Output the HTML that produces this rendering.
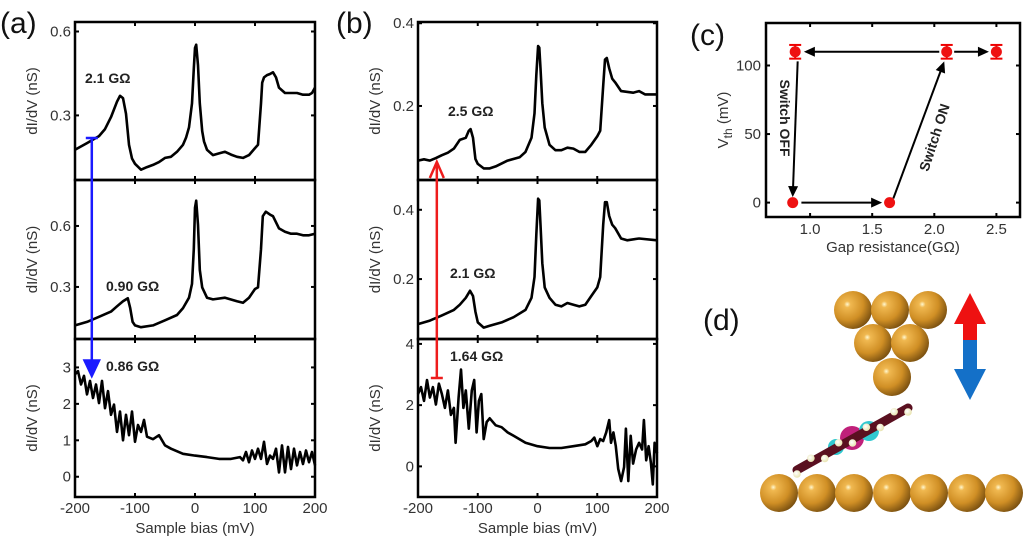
<!DOCTYPE html>
<html><head><meta charset="utf-8"><style>
html,body{margin:0;padding:0;background:#fff;}
svg{display:block;font-family:"Liberation Sans",sans-serif;}
.tk{font-size:15px;fill:#333;}
.lab{font-size:15px;fill:#333;}
.ann{font-size:14px;font-weight:bold;fill:#222;}
.pl{font-size:30px;fill:#111;}
</style></head><body>
<svg id="fig" width="1024" height="543" viewBox="0 0 1024 543">
<g id="root"></g>
</svg>
<script>
// ---------- data ----------
const aTopX=[-200,-180,-160,-150,-140,-130,-125,-120,-115,-110,-105,-100,-90,-80,-70,-60,-50,-40,-30,-20,-15,-10,-5,-2,0,2,5,8,12,15,20,30,40,50,60,70,80,90,100,105,110,112,115,120,125,130,135,140,150,160,170,180,190,195,200];
const aTopY=[0.177,0.201,0.226,0.251,0.294,0.349,0.370,0.362,0.306,0.195,0.146,0.127,0.106,0.115,0.123,0.133,0.148,0.152,0.170,0.195,0.220,0.257,0.343,0.467,0.541,0.553,0.479,0.343,0.244,0.207,0.177,0.158,0.164,0.170,0.160,0.152,0.148,0.158,0.183,0.195,0.343,0.417,0.436,0.444,0.448,0.454,0.436,0.399,0.380,0.380,0.380,0.374,0.374,0.380,0.399];
const aMidX=[-200,-180,-160,-140,-130,-120,-112,-108,-104,-100,-90,-70,-50,-30,-20,-10,-5,-2,0,2,5,8,12,20,30,50,70,80,90,100,105,110,113,118,125,130,140,150,160,170,180,190,200];
const aMidY=[0.111,0.128,0.153,0.179,0.205,0.230,0.244,0.196,0.128,0.111,0.102,0.111,0.136,0.162,0.196,0.247,0.315,0.486,0.690,0.724,0.605,0.384,0.298,0.247,0.239,0.247,0.230,0.222,0.247,0.290,0.298,0.486,0.648,0.670,0.656,0.648,0.588,0.571,0.562,0.562,0.554,0.554,0.562];
const aBotX=[-200,-195,-190,-185,-180,-175,-170,-165,-160,-155,-150,-145,-140,-135,-130,-125,-120,-115,-110,-105,-100,-95,-90,-85,-80,-70,-60,-50,-40,-20,0,20,40,60,75,80,85,90,95,100,105,110,115,120,125,130,135,140,145,150,155,160,165,170,175,180,185,190,195,200];
const aBotY=[2.81,2.9,2.53,2.77,2.26,2.63,2.16,2.53,2.02,2.63,1.88,2.35,1.70,1.98,1.23,1.79,1.0,1.70,1.14,1.79,0.96,1.42,1.23,1.56,1.10,1.03,1.14,0.86,0.77,0.63,0.58,0.54,0.49,0.49,0.54,0.45,0.68,0.40,0.72,0.49,0.77,0.49,0.96,0.35,0.58,0.49,0.77,0.12,0.86,0.12,0.82,0.21,0.77,0.31,0.68,0.35,0.72,0.40,0.68,0.31];
const bTopX=[-200,-190,-180,-170,-160,-150,-140,-130,-120,-115,-112,-108,-104,-100,-90,-80,-70,-50,-30,-20,-10,-5,-2,1,3,5,8,12,20,30,40,50,60,70,80,90,100,105,110,113,116,120,125,130,140,160,170,180,200];
const bTopY=[0.068,0.071,0.068,0.074,0.081,0.087,0.097,0.118,0.123,0.140,0.144,0.123,0.072,0.060,0.049,0.049,0.054,0.068,0.076,0.089,0.123,0.182,0.274,0.345,0.341,0.291,0.207,0.148,0.106,0.093,0.093,0.099,0.097,0.089,0.089,0.106,0.127,0.140,0.249,0.312,0.316,0.291,0.266,0.257,0.236,0.232,0.236,0.228,0.228];
const bMidX=[-200,-180,-160,-140,-130,-120,-113,-108,-104,-100,-90,-80,-60,-40,-20,-10,-5,-2,1,3,5,8,12,20,30,40,50,60,70,80,90,100,105,110,113,116,120,125,130,140,150,170,200];
const bMidY=[0.070,0.080,0.095,0.111,0.126,0.146,0.166,0.151,0.106,0.075,0.060,0.065,0.075,0.090,0.111,0.146,0.206,0.327,0.432,0.427,0.357,0.246,0.176,0.146,0.126,0.121,0.131,0.126,0.121,0.126,0.151,0.176,0.206,0.357,0.422,0.422,0.382,0.357,0.347,0.317,0.312,0.317,0.312];
const bBotX=[-200,-195,-190,-185,-180,-175,-170,-165,-160,-155,-150,-145,-140,-137,-132,-128,-124,-120,-115,-110,-106,-102,-98,-94,-90,-85,-80,-70,-60,-50,-40,-20,0,20,40,60,80,90,95,100,105,110,115,120,123,127,131,135,140,145,148,152,156,160,165,170,175,178,182,186,190,193,196,200];
const bBotY=[2.36,2.59,2.14,2.82,2.25,2.59,2.02,2.70,2.36,1.91,2.48,1.68,1.91,0.77,2.25,3.16,1.91,2.48,1.23,2.48,2.82,1.11,2.14,2.36,0.89,1.45,1.57,1.34,1.28,1.11,1.0,0.77,0.66,0.60,0.60,0.66,0.72,0.83,0.94,0.66,0.89,0.83,1.11,1.51,0.77,1.11,0.66,-0.08,-0.48,-0.02,1.23,-0.48,1.0,0.09,0.55,0.77,0.55,1.51,0.20,0.66,0.09,-0.59,0.77,0.43];
const xTicks=[-200,-100,0,100,200];
const cX=[0.88,2.1,2.5,0.86,1.64];
const cY=[110,110,110,0,0];
const cErr=[5,5,5,0,0];
const cXTicks=[1.0,1.5,2.0,2.5];
const cYTicks=[0,50,100];

// ---------- helpers ----------
const NS="http://www.w3.org/2000/svg";
const root=document.getElementById('root');
function mk(tag,attrs,parent){const e=document.createElementNS(NS,tag);for(const k in attrs)e.setAttribute(k,attrs[k]);(parent||root).appendChild(e);return e;}
function txt(s,attrs,parent){const e=mk('text',attrs,parent);e.textContent=s;return e;}

function panel(pid,L,R,T,B,y0,y1,xs,ys,yt,ylab,showXLab){
  const g=mk('g',{});
  
  
  const sx=v=>L+(v+200)/400*(R-L);
  const sy=v=>B-(v-y0)/(y1-y0)*(B-T);
  mk('rect',{x:L,y:T,width:R-L,height:B-T,fill:'none',stroke:'#000','stroke-width':2.5},g);
  xTicks.forEach(t=>{mk('line',{x1:sx(t),x2:sx(t),y1:B,y2:B-4,stroke:'#000','stroke-width':2},g);mk('line',{x1:sx(t),x2:sx(t),y1:T,y2:T+4,stroke:'#000','stroke-width':2},g);});
  yt.forEach(t=>{mk('line',{x1:L,x2:L+4,y1:sy(t),y2:sy(t),stroke:'#000','stroke-width':2},g);mk('line',{x1:R,x2:R-4,y1:sy(t),y2:sy(t),stroke:'#000','stroke-width':2},g);
    const tl=txt(String(t),{x:L-4,y:sy(t)+5,'text-anchor':'end',class:'tk'},g);
    
    });
  let d='';xs.forEach((x,i)=>{d+=(i?'L':'M')+sx(x).toFixed(1)+' '+sy(ys[i]).toFixed(1);});
  const p=mk('path',{d:d,fill:'none',stroke:'#000','stroke-width':2.6,'stroke-linejoin':'round'},g);
  
  
  const cy=(T+B)/2;
  const yl=txt('dI/dV (nS)',{x:L-38,y:cy,'text-anchor':'middle',class:'lab',transform:`rotate(-90 ${L-38} ${cy})`},g);
  
  
  if(showXLab){
    xTicks.forEach(t=>{const tl=txt(String(t),{x:sx(t),y:B+16,'text-anchor':'middle',class:'tk'},g);
      
      });
    const xl=txt('Sample bias (mV)',{x:(L+R)/2,y:B+36,'text-anchor':'middle',class:'lab'},g);
    
    
  }
  return {sx,sy};
}
function vArrow(x,y1,y2,color,name,filled){ // cap at y1, head at y2
  const g=mk('g',{});
  
  
  const dir=y2>y1?1:-1;
  mk('line',{x1:x-6,x2:x+6,y1:y1,y2:y1,stroke:color,'stroke-width':2.5},g);
  mk('line',{x1:x,x2:x,y1:y1,y2:y2-dir*(filled?14:3),stroke:color,'stroke-width':2.5},g);
  if(filled) mk('path',{d:`M${x-8} ${y2-dir*17}L${x} ${y2}L${x+8} ${y2-dir*17}Z`,fill:color,stroke:color,'stroke-width':1.5},g);
  else mk('path',{d:`M${x-7} ${y2-dir*16}L${x} ${y2}L${x+7} ${y2-dir*16}`,fill:'none',stroke:color,'stroke-width':2.5},g);
}
function ann(s,x,y,name){const t=txt(s,{x:x,y:y,class:'ann'});}

// ---------- panel (a) ----------
const a1=panel('a-top',75,315,22,180,0.069,0.634,aTopX,aTopY,[0.3,0.6],true,false);
panel('a-middle',75,315,180,339,0.044,0.826,aMidX,aMidY,[0.3,0.6],true,false);
panel('a-bottom',75,315,339,497,-0.556,3.78,aBotX,aBotY,[0,1,2,3],true,true);
vArrow(a1.sx(-172),138,377,'#1a1aff','a-blue-arrow',true);
ann('2.1 GΩ',85,83,'a-top-resistance-label');
ann('0.90 GΩ',106,291,'a-middle-resistance-label');
ann('0.86 GΩ',106,371,'a-bottom-resistance-label');
// ---------- panel (b) ----------
const b1=panel('b-top',418,657,22,180,0.021,0.403,bTopX,bTopY,[0.2,0.4],true,false);
panel('b-middle',418,657,180,339,0.027,0.486,bMidX,bMidY,[0.2,0.4],true,false);
panel('b-bottom',418,657,339,497,-1.0,4.16,bBotX,bBotY,[0,2,4],true,true);
vArrow(b1.sx(-168.5),378,162,'#ee1c1c','b-red-arrow',false);
ann('2.5 GΩ',448,116,'b-top-resistance-label');
ann('2.1 GΩ',450,278,'b-middle-resistance-label');
ann('1.64 GΩ',450,361,'b-bottom-resistance-label');

// ---------- panel (c) ----------
(function(){
  const L=766,R=1020,T=23,B=217,x0=0.645,x1=2.69,y0=-10.5,y1=131;
  const sx=v=>L+(v-x0)/(x1-x0)*(R-L), sy=v=>B-(v-y0)/(y1-y0)*(B-T);
  const g=mk('g',{});
  
  
  mk('rect',{x:L,y:T,width:R-L,height:B-T,fill:'none',stroke:'#000','stroke-width':2.5},g);
  cXTicks.forEach(t=>{mk('line',{x1:sx(t),x2:sx(t),y1:B,y2:B-4,stroke:'#000','stroke-width':2},g);mk('line',{x1:sx(t),x2:sx(t),y1:T,y2:T+4,stroke:'#000','stroke-width':2},g);
    const tl=txt(t.toFixed(1),{x:sx(t),y:B+17,'text-anchor':'middle',class:'tk'},g);
    
    });
  cYTicks.forEach(t=>{mk('line',{x1:L,x2:L+4,y1:sy(t),y2:sy(t),stroke:'#000','stroke-width':2},g);mk('line',{x1:R,x2:R-4,y1:sy(t),y2:sy(t),stroke:'#000','stroke-width':2},g);
    const tl=txt(String(t),{x:L-5,y:sy(t)+5,'text-anchor':'end',class:'tk'},g);
    
    });
  const xl=txt('Gap resistance(GΩ)',{x:893,y:252,'text-anchor':'middle',class:'lab'},g);
  
  
  const yl=mk('text',{x:728,y:120,'text-anchor':'middle',class:'lab',transform:'rotate(-90 728 120)'},g);
  yl.innerHTML='V<tspan dy="4" font-size="12">th</tspan><tspan dy="-4"> (mV)</tspan>';
  
  
  function arr(xa,ya,xb,yb,name){
    const ang=Math.atan2(sy(yb)-sy(ya),sx(xb)-sx(xa));
    const X2=sx(xb),Y2=sy(yb);
    const ag=mk('g',{},g);
    
    
    mk('line',{x1:sx(xa),y1:sy(ya),x2:X2-8*Math.cos(ang),y2:Y2-8*Math.sin(ang),stroke:'#000','stroke-width':2},ag);
    const h=11,w=5;
    const p1=[X2-h*Math.cos(ang)+w*Math.sin(ang),Y2-h*Math.sin(ang)-w*Math.cos(ang)];
    const p2=[X2-h*Math.cos(ang)-w*Math.sin(ang),Y2-h*Math.sin(ang)+w*Math.cos(ang)];
    mk('path',{d:`M${p1}L${X2} ${Y2}L${p2}Z`,fill:'#000'},ag);
  }
  arr(0.9,103,0.86,4,'switch-off-arrow');
  arr(0.93,0,1.58,0,'low-state-arrow');
  arr(1.67,3,2.08,103,'switch-on-arrow');
  arr(2.04,110,0.95,110,'high-state-arrow-left');
  arr(2.16,110,2.44,110,'high-state-arrow-right');
  cX.forEach((x,i)=>{
    if(cErr[i]){mk('line',{x1:sx(x),x2:sx(x),y1:sy(cY[i]-cErr[i]),y2:sy(cY[i]+cErr[i]),stroke:'#e00','stroke-width':2},g);
      [cY[i]-cErr[i],cY[i]+cErr[i]].forEach(v=>mk('line',{x1:sx(x)-6,x2:sx(x)+6,y1:sy(v),y2:sy(v),stroke:'#e00','stroke-width':2},g));}
    const c=mk('circle',{cx:sx(x),cy:sy(cY[i]),r:5.5,fill:'#ee1111'},g);
    
    
  });
  const s1=txt('Switch OFF',{x:0,y:0,class:'ann','text-anchor':'middle',transform:'translate(780,118) rotate(90)'},g);
  
  
  const s2=txt('Switch ON',{x:0,y:0,class:'ann','text-anchor':'middle',transform:'translate(939,139) rotate(-72)'},g);
  
  
})();
</script>
<svg width="0" height="0" style="position:absolute">
<defs>
<radialGradient id="au" cx="0.35" cy="0.35" r="0.7"><stop offset="0" stop-color="#fff8d0"/><stop offset="0.12" stop-color="#f0b850"/><stop offset="0.6" stop-color="#d08f25"/><stop offset="1" stop-color="#7a5010"/></radialGradient>
<radialGradient id="hb" cx="0.4" cy="0.4" r="0.6"><stop offset="0" stop-color="#fff"/><stop offset="1" stop-color="#e8e4b0"/></radialGradient>
</defs></svg>
<script>
const NS2="http://www.w3.org/2000/svg";
const fig=document.getElementById('fig');
function m2(tag,attrs,parent){const e=document.createElementNS(NS2,tag);for(const k in attrs)e.setAttribute(k,attrs[k]);(parent||fig).appendChild(e);return e;}
[['(a)',0,33],['(b)',336,33],['(c)',690,45],['(d)',703,330]].forEach(l=>{
  const t=m2('text',{x:l[1],y:l[2],class:'pl'});t.textContent=l[0];
  
  
});
const dg=m2('g',{});


const tipAtoms=[[853,310],[890,310],[928,310],[873,343],[910,343],[892,377]];
const surfAtoms=[779,817,854,892,929,967,1004];
tipAtoms.forEach(a=>m2('circle',{cx:a[0],cy:a[1],r:19,fill:'url(#au)'},dg));
surfAtoms.forEach(x=>m2('circle',{cx:x,cy:493,r:19,fill:'url(#au)'},dg));
m2('circle',{cx:852,cy:438,r:12,fill:'#c0207a'},dg);
m2('circle',{cx:869,cy:431,r:10,fill:'#30c8d0'},dg);
m2('circle',{cx:836,cy:447,r:8,fill:'#30c8d0'},dg);
m2('line',{x1:797,y1:470,x2:908,y2:408,stroke:'#5a1020','stroke-width':9,'stroke-linecap':'round'},dg);
for(let i=0;i<9;i++){const t=i/8;m2('circle',{cx:797+111*t,cy:470-62*t+(i%2?-4:4),r:3.8,fill:'url(#hb)'},dg);}
const ar=m2('g',{});


m2('path',{d:'M970 293L986 324L977 324L977 340L963 340L963 324L954 324Z',fill:'#ee1111'},ar);
m2('path',{d:'M963 340L977 340L977 369L986 369L970 400L954 369L963 369Z',fill:'#1470c8'},ar);
</script>
</body></html>
